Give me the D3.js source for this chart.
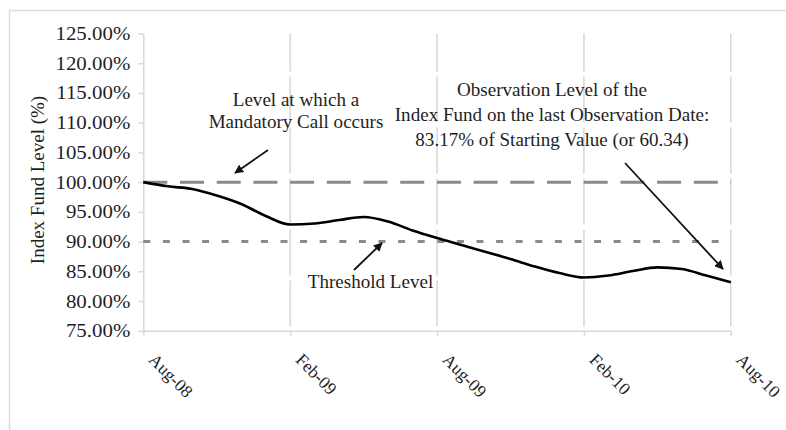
<!DOCTYPE html>
<html><head><meta charset="utf-8">
<script src="https://cdn.jsdelivr.net/npm/d3@7"></script>
<style>
html,body{margin:0;padding:0;background:#fff;}
svg text{font-family:"Liberation Serif","Times New Roman",serif;fill:#1e1e1e;}
</style></head>
<body><svg id="c" width="786" height="430"></svg>
<script>
const months = ["Aug-08","Sep-08","Oct-08","Nov-08","Dec-08","Jan-09","Feb-09","Mar-09","Apr-09","May-09","Jun-09","Jul-09",
  "Aug-09","Sep-09","Oct-09","Nov-09","Dec-09","Jan-10","Feb-10","Mar-10","Apr-10","May-10","Jun-10","Jul-10","Aug-10"];
const indexLevel = [100.0,99.3,98.86,97.76,96.33,94.31,92.88,93.05,93.64,94.14,93.38,91.87,
  90.6,89.43,88.25,87.07,85.8,84.71,83.96,84.29,85.05,85.67,85.39,84.29,83.17];
const xTickLabels = ["Aug-08","Feb-09","Aug-09","Feb-10","Aug-10"];
const yTicks = [75,80,85,90,95,100,105,110,115,120,125];
const mandatoryCallLevel = 100;
const thresholdLevel = 90;
const yTitle = "Index Fund Level (%)";
const noteCall = ["Level at which a","Mandatory Call occurs"];
const noteObs = ["Observation Level of the","Index Fund on the last Observation Date:","83.17% of Starting Value (or 60.34)"];
const noteThreshold = "Threshold Level";

const svg = d3.select("#c");
const L = 143.3, R = 730.8, T = 33.5, B = 330.8;
const x = d3.scalePoint().domain(months).range([L, R]);
const y = d3.scaleLinear().domain([75,125]).range([B, T]);
const grid = "#d8d8d8";

// outer frame
svg.append("rect").attr("x",9.5).attr("y",10.5).attr("width",800).attr("height",430)
  .attr("fill","none").attr("stroke","#dcdcdc").attr("stroke-width",1.5);

// defs
const defs = svg.append("defs");
defs.append("marker").attr("id","ah").attr("viewBox","0 0 10 10").attr("refX",9).attr("refY",5)
  .attr("markerWidth",9).attr("markerHeight",9).attr("markerUnits","userSpaceOnUse").attr("orient","auto")
  .append("path").attr("d","M0,0 L10,5 L0,10 z").attr("fill","#111");

// vertical grid lines
svg.append("g").selectAll("line").data(xTickLabels.slice(1)).join("line")
  .attr("x1",d=>x(d)).attr("x2",d=>x(d)).attr("y1",T).attr("y2",B)
  .attr("stroke",grid).attr("stroke-width",1.5).attr("stroke-dasharray","46,5").attr("stroke-dashoffset",8);

// x axis
const xAxis = svg.append("g").attr("transform",`translate(0,${B})`)
  .call(d3.axisBottom(x).tickValues(xTickLabels).tickSize(5).tickSizeOuter(0));
xAxis.select(".domain").attr("stroke",grid).attr("stroke-width",1.5);
xAxis.selectAll(".tick line").attr("stroke",grid).attr("stroke-width",1.5);
xAxis.selectAll(".tick text").attr("font-size",17.5).attr("fill","#1e1e1e")
  .attr("text-anchor","start").attr("x",0).attr("y",0).attr("dy",0)
  .attr("transform","translate(4,30) rotate(45)");

// y axis
const yAxis = svg.append("g").attr("transform",`translate(${L},0)`)
  .call(d3.axisLeft(y).tickValues(yTicks).tickFormat(d=>d.toFixed(2)+"%").tickSize(5).tickPadding(8).tickSizeOuter(0));
yAxis.select(".domain").attr("stroke",grid).attr("stroke-width",1.5);
yAxis.selectAll(".tick line").attr("stroke",grid).attr("stroke-width",1.5);
yAxis.selectAll(".tick text").attr("font-size",18.5).attr("fill","#1e1e1e")
  .attr("x",0).attr("transform","translate(-13,0) scale(1.13,1)");

// y title
svg.append("text").attr("transform",`translate(44,180) rotate(-90)`).attr("text-anchor","middle")
  .attr("font-size",19).text(yTitle);

// reference lines
svg.append("line").attr("x1",L).attr("x2",R).attr("y1",y(mandatoryCallLevel)).attr("y2",y(mandatoryCallLevel))
  .attr("stroke","#8a8a8a").attr("stroke-width",3).attr("stroke-dasharray","24,12.7");
svg.append("line").attr("x1",L).attr("x2",R).attr("y1",y(thresholdLevel)).attr("y2",y(thresholdLevel))
  .attr("stroke","#8a8a8a").attr("stroke-width",3).attr("stroke-dasharray","7,12.6");

// index line
const line = d3.line().x((d,i)=>x(months[i])).y(d=>y(d)).curve(d3.curveMonotoneX);
svg.append("path").datum(indexLevel).attr("d",line).attr("fill","none")
  .attr("stroke","#000").attr("stroke-width",2.6);

// annotations
function lines(arr, cx, y0, dy){
  const g = svg.append("g").attr("transform",`translate(${cx},0) scale(1.06,1)`);
  const t = g.append("text").attr("text-anchor","middle").attr("font-size",18);
  arr.forEach((s,i)=>t.append("tspan").attr("x",0).attr("y",y0+i*dy).text(s));
}
lines(noteCall, 296, 106, 22.3);
lines(noteObs, 552, 96.5, 25);
lines([noteThreshold], 370.5, 288, 0);

function arrow(x1,y1,x2,y2){
  svg.append("line").attr("x1",x1).attr("y1",y1).attr("x2",x2).attr("y2",y2)
    .attr("stroke","#111").attr("stroke-width",1.8).attr("marker-end","url(#ah)");
}
arrow(268,150,235,173);
arrow(625,163,723,269);
arrow(354,270,382,243);
</script></body></html>
